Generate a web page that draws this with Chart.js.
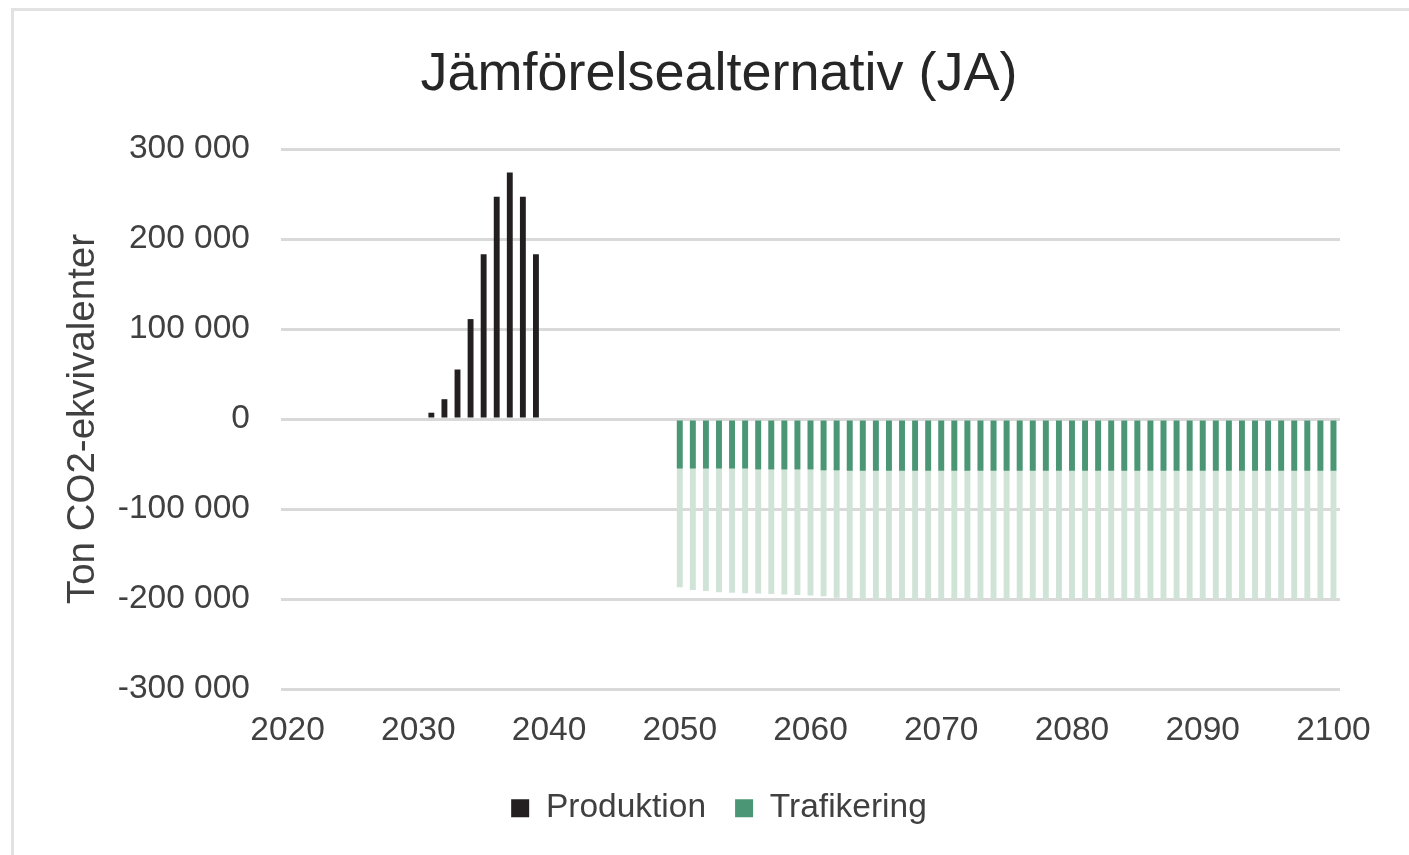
<!DOCTYPE html>
<html>
<head>
<meta charset="utf-8">
<script src="https://cdn.jsdelivr.net/npm/chart.js@4.4.1/dist/chart.umd.min.js"></script>
<style>
  html, body { margin: 0; padding: 0; background: #ffffff; }
  #wrap { position: relative; width: 1409px; height: 855px; overflow: hidden; }
  #frame { position: absolute; left: 11px; top: 8px; width: 1500px; height: 1000px;
           border-left: 3px solid #e2e2e2; border-top: 3px solid #e2e2e2; }
  canvas { position: absolute; left: 0; top: 0; }
</style>
</head>
<body>
<div id="wrap">
  <div id="frame"></div>
  <canvas id="chart" width="1409" height="855"></canvas>
</div>
<script>
// Years on the category axis
const years = [
  2020, 2021, 2022, 2023, 2024, 2025, 2026, 2027, 2028, 2029,
  2030, 2031, 2032, 2033, 2034, 2035, 2036, 2037, 2038, 2039,
  2040, 2041, 2042, 2043, 2044, 2045, 2046, 2047, 2048, 2049,
  2050, 2051, 2052, 2053, 2054, 2055, 2056, 2057, 2058, 2059,
  2060, 2061, 2062, 2063, 2064, 2065, 2066, 2067, 2068, 2069,
  2070, 2071, 2072, 2073, 2074, 2075, 2076, 2077, 2078, 2079,
  2080, 2081, 2082, 2083, 2084, 2085, 2086, 2087, 2088, 2089,
  2090, 2091, 2092, 2093, 2094, 2095, 2096, 2097, 2098, 2099,
  2100
];

// Emissions during construction, 2031–2039 (ton CO2e)
const produktionYears = [2031, 2032, 2033, 2034, 2035, 2036, 2037, 2038, 2039];
const produktion = [7000, 22000, 55000, 111000, 183000, 247000, 274000, 247000, 183000];

// Traffic effect from 2050 onwards: the solid part and the full (pale) extent
const trafikYears = [
  2050, 2051, 2052, 2053, 2054, 2055, 2056, 2057, 2058, 2059,
  2060, 2061, 2062, 2063, 2064, 2065, 2066, 2067, 2068, 2069,
  2070, 2071, 2072, 2073, 2074, 2075, 2076, 2077, 2078, 2079,
  2080, 2081, 2082, 2083, 2084, 2085, 2086, 2087, 2088, 2089,
  2090, 2091, 2092, 2093, 2094, 2095, 2096, 2097, 2098, 2099,
  2100
];
const trafikering = [
  -55000, -55000, -55000, -55000, -55000, -55000, -56000, -56000, -56000, -56000,
  -56000, -57000, -57000, -57500, -57500, -57500, -57500, -57500, -57500, -57500,
  -57500, -57500, -57500, -57500, -57500, -57500, -57500, -57500, -57500, -57500,
  -57500, -57500, -57500, -57500, -57500, -57500, -57500, -57500, -57500, -57500,
  -57500, -57500, -57500, -57500, -57500, -57500, -57500, -57500, -57500, -57500,
  -57500
];
const trafikeringTotal = [
  -187000, -190000, -191000, -192500, -193000, -193500, -194000, -194500, -195000, -195500,
  -196000, -197000, -198500, -200000, -200000, -200000, -200000, -200000, -200000, -200000,
  -200000, -200000, -200000, -200000, -200000, -200000, -200000, -200000, -200000, -200000,
  -200000, -200000, -200000, -200000, -200000, -200000, -200000, -200000, -200000, -200000,
  -200000, -200000, -200000, -200000, -200000, -200000, -200000, -200000, -200000, -200000,
  -200000
];

// Y axis ticks
const yTicks = [-300000, -200000, -100000, 0, 100000, 200000, 300000];

// Spread a per-year list over the full year axis
function onYears(ys, vals) {
  return years.map(y => {
    const i = ys.indexOf(y);
    return i >= 0 ? vals[i] : null;
  });
}

function fmt(v) {
  if (v === 0) return '0';
  const s = String(Math.abs(v)).replace(/\B(?=(\d{3})+(?!\d))/g, ' ');
  return (v < 0 ? '-' : '') + s;
}

const FONT = '"Liberation Sans", Arial, sans-serif';
const TEXT = '#404040';

new Chart(document.getElementById('chart'), {
  type: 'bar',
  data: {
    labels: years.map(String),
    datasets: [
      {
        label: 'Produktion',
        data: onYears(produktionYears, produktion),
        backgroundColor: '#231f20'
      },
      {
        label: 'Trafikering',
        data: onYears(trafikYears, trafikering),
        backgroundColor: '#4b9675'
      },
      {
        label: 'Trafikering, totalt',
        data: onYears(trafikYears, trafikeringTotal),
        backgroundColor: '#d0e3d7'
      }
    ]
  },
  options: {
    responsive: false,
    animation: false,
    devicePixelRatio: 1,
    layout: { padding: { left: 98, right: 69, top: 0, bottom: 20 } },
    datasets: {
      bar: { grouped: false, categoryPercentage: 1, barPercentage: 0.45 }
    },
    plugins: {
      title: {
        display: true,
        text: 'Jämförelsealternativ (JA)',
        color: '#262626',
        font: { family: FONT, size: 54, weight: 'normal' },
        padding: { top: 43, bottom: 41.2 }
      },
      legend: {
        position: 'bottom',
        labels: {
          color: TEXT,
          font: { family: FONT, size: 33.5 },
          boxWidth: 18,
          boxHeight: 18,
          padding: 29,
          filter: item => item.datasetIndex !== 2
        }
      },
      tooltip: { enabled: false }
    },
    scales: {
      x: {
        type: 'category',
        offset: true,
        afterFit: axis => { axis.height = 73.5; },
        grid: { display: false },
        border: { display: false },
        ticks: {
          autoSkip: false,
          maxRotation: 0,
          minRotation: 0,
          padding: 14,
          color: TEXT,
          font: { family: FONT, size: 33.5 },
          callback: function (value, index) {
            return years[index] % 10 === 0 ? String(years[index]) : '';
          }
        }
      },
      y: {
        min: -300000,
        max: 300000,
        afterBuildTicks: axis => { axis.ticks = yTicks.map(v => ({ value: v })); },
        afterFit: axis => { axis.width = 281 - 98; },
        grid: { color: '#d9d9d9', lineWidth: 3, drawTicks: false },
        border: { display: false },
        ticks: {
          padding: 31,
          color: TEXT,
          font: { family: FONT, size: 33.5 },
          callback: v => fmt(v)
        },
        title: {
          display: true,
          text: 'Ton CO2-ekvivalenter',
          color: TEXT,
          font: { family: FONT, size: 38.5 },
          padding: { top: -38, bottom: 0 }
        }
      }
    }
  }
});
</script>
</body>
</html>
